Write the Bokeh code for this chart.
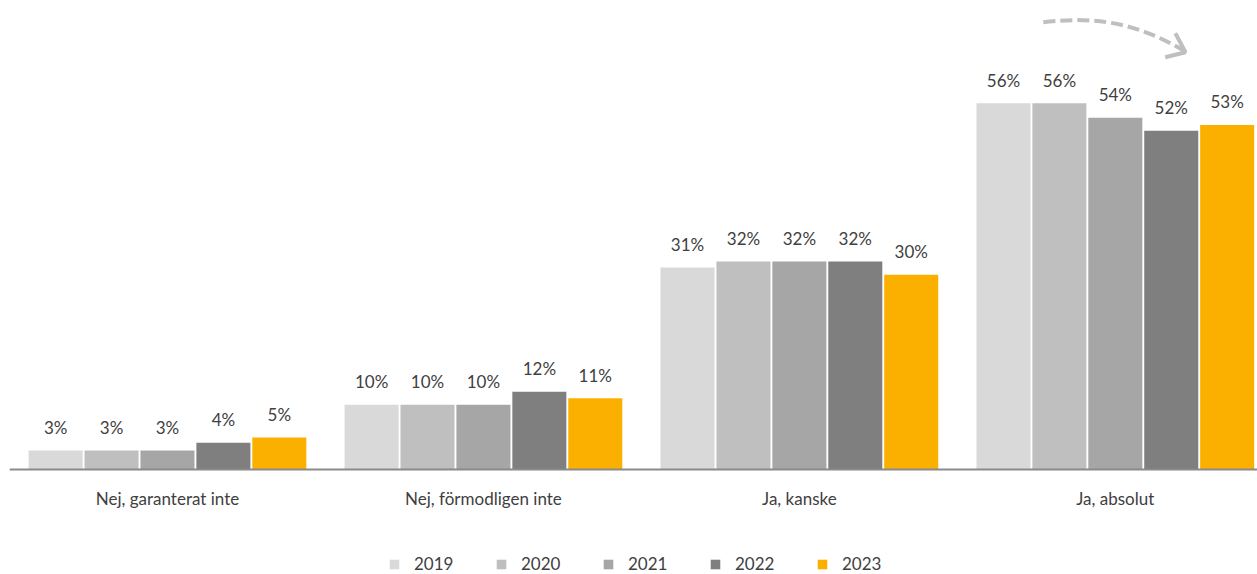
from bokeh.plotting import figure
from bokeh.models import Range1d, FixedTicker, Legend, LegendItem, ColumnDataSource
from bokeh.core.properties import value
from bokeh.embed import file_html
from bokeh.resources import INLINE

categories = ["Nej, garanterat inte", "Nej, förmodligen inte", "Ja, kanske", "Ja, absolut"]
years = ["2019", "2020", "2021", "2022", "2023"]
v2019 = [2.9, 9.9, 30.9, 56.0]
v2020 = [2.9, 9.9, 31.8, 56.0]
v2021 = [2.9, 9.9, 31.8, 53.8]
v2022 = [4.1, 11.9, 31.8, 51.8]
v2023 = [4.9, 10.9, 29.8, 52.7]
series = [v2019, v2020, v2021, v2022, v2023]
colors = ["#d9d9d9", "#bfbfbf", "#a6a6a6", "#7f7f7f", "#fbb000"]

# decorative arrow (top right), in data units
arrow_x = [3.272, 3.453, 3.579, 3.715]
arrow_y = [68.39, 69.46, 67.93, 64.11]
head_x = [3.690, 3.722, 3.658]
head_y = [66.71, 63.80, 63.04]

FONT = "Lato"
TXT = "#404040"

p = figure(frame_width=1248, frame_height=566, output_backend="svg", toolbar_location=None,
           x_range=Range1d(0, 3.95), y_range=Range1d(-16.06, 70.5),
           min_border_left=9, min_border_right=0, min_border_top=8, min_border_bottom=0)
p.outline_line_color = None
p.xgrid.visible = False
p.ygrid.visible = False
p.yaxis.visible = False
p.background_fill_color = "white"

bw = 0.171
step = 0.177
items = []
for k, (yr, vals, col) in enumerate(zip(years, series, colors)):
    off = (k - 2) * step
    xs = [i + 0.5 + off for i in range(len(categories))]
    src = ColumnDataSource(dict(x=xs, top=vals, lab=[f"{round(v)}%" for v in vals]))
    r = p.vbar(x="x", top="top", width=bw, bottom=0, source=src,
               fill_color=col, line_color=None)
    p.text(x="x", y="top", text="lab", source=src, text_align="center",
           text_baseline="middle", y_offset=-23, text_font=value(FONT),
           text_font_size="17px", text_color=TXT)
    items.append(LegendItem(label=yr, renderers=[r]))

ax = p.xaxis[0]
ax.fixed_location = 0
ax.ticker = FixedTicker(ticks=[i + 0.5 for i in range(len(categories))])
ax.major_label_overrides = {i + 0.5: c for i, c in enumerate(categories)}
ax.major_tick_line_color = None
ax.minor_tick_line_color = None
ax.axis_line_color = "#8a8a8a"
ax.axis_line_width = 2
ax.major_label_text_font = FONT
ax.major_label_text_font_size = "17px"
ax.major_label_text_color = TXT
ax.major_label_standoff = 13

p.bezier(x0=arrow_x[0], y0=arrow_y[0], cx0=arrow_x[1], cy0=arrow_y[1],
         cx1=arrow_x[2], cy1=arrow_y[2], x1=arrow_x[3], y1=arrow_y[3],
         line_color="#bfbfbf", line_width=4, line_dash="12 5")
p.line(head_x, head_y, line_color="#bfbfbf", line_width=4)

legend = Legend(items=items, orientation="horizontal", location=(379, 0),
                padding=0, margin=0, spacing=21, label_standoff=14, label_width=60,
                label_height=12, glyph_width=12, glyph_height=12,
                border_line_color=None, background_fill_alpha=0,
                label_text_font=FONT, label_text_font_size="17px",
                label_text_color=TXT)
p.add_layout(legend, "center")

open("out.html", "w").write(file_html(p, INLINE))
